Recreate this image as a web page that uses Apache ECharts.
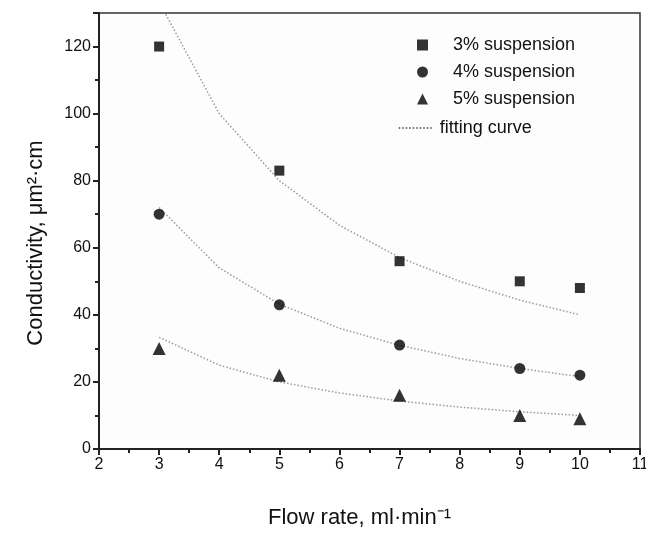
<!DOCTYPE html>
<html>
<head>
<meta charset="utf-8">
<script src="https://cdn.jsdelivr.net/npm/echarts@6/dist/echarts.min.js"></script>
<style>html,body{margin:0;padding:0;background:#fff;}#c{width:646px;height:536px;}</style>
</head>
<body>
<div id="c"></div>
<script>
// Measured data
var flowRates = [3, 5, 7, 9, 10];
var susp3 = [120, 83, 56, 50, 48];
var susp4 = [70, 43, 31, 24, 22];
var susp5 = [30, 22, 16, 10, 9];
// Fitting curves read at integer flow rates
var fitX = [3, 4, 5, 6, 7, 8, 9, 10];
var fit3 = [133.3, 100, 80, 66.7, 57.1, 50, 44.4, 40];
var fit4 = [72, 54, 43.2, 36, 30.9, 27, 24, 21.6];
var fit5 = [33.3, 25, 20, 16.7, 14.3, 12.5, 11.1, 10];
var seriesNames = ['3% suspension', '4% suspension', '5% suspension'];
var fitName = 'fitting curve';

function pairs(xs, ys) { return xs.map(function (x, i) { return [x, ys[i]]; }); }

var FONT = '"Liberation Sans", Arial, sans-serif';
var fitStyle = { color: '#9a9a9a', width: 1.5, type: [1.5, 2] };

function fitSeries(ys) {
  return {
    name: fitName, type: 'line', data: pairs(fitX, ys), symbol: 'none', showSymbol: false,
    lineStyle: fitStyle, itemStyle: { color: 'rgba(0,0,0,0)' }, z: 1, silent: true, animation: false
  };
}
function ptSeries(name, ys, symbol, size) {
  return {
    name: name, type: 'scatter', data: pairs(flowRates, ys), symbol: symbol, symbolSize: size,
    itemStyle: { color: '#000' }, z: 3, animation: false
  };
}

var chart = echarts.init(document.getElementById('c'));
chart.setOption({
  backgroundColor: '#fff',
  animation: false,
  grid: { left: 99, right: 6, top: 13, bottom: 87, outerBoundsMode: 'none', containLabel: false, show: true, borderColor: '#333', borderWidth: 1.5, backgroundColor: '#fdfdfd' },
  legend: [
    {
      data: [
        { name: seriesNames[0], icon: 'rect' },
        { name: seriesNames[1], icon: 'circle' },
        { name: seriesNames[2], icon: 'triangle' }
      ],
      orient: 'vertical', left: 412, top: 31, itemWidth: 11, itemHeight: 11, itemGap: 9,
      itemStyle: { color: '#000' },
      textStyle: { fontFamily: FONT, fontSize: 18, color: '#111', padding: [0, 0, 0, 20] },
      selectedMode: false
    },
    {
      data: [{ name: fitName, itemStyle: { color: 'rgba(0,0,0,0)', borderWidth: 0, opacity: 0 } }],
      orient: 'vertical', left: 393, top: 114, itemWidth: 35, itemHeight: 12,
      lineStyle: { color: '#444', width: 1.5, type: [1.5, 2] },
      textStyle: { fontFamily: FONT, fontSize: 18, color: '#111', padding: [0, 0, 0, 1] },
      selectedMode: false
    }
  ],
  xAxis: {
    type: 'value', min: 2, max: 11, interval: 1,
    name: 'Flow rate, ml·min⁻¹', nameLocation: 'middle', nameGap: 58,
    nameTextStyle: { fontFamily: FONT, fontSize: 22, color: '#111', padding: [0, 20, 0, 0] },
    axisLine: { show: true, onZero: false, lineStyle: { color: '#222', width: 2 } },
    axisTick: { show: true, inside: false, length: 6, lineStyle: { color: '#222', width: 2 } },
    minorTick: { show: true, splitNumber: 2, length: 4, lineStyle: { color: '#222', width: 2 } },
    axisLabel: { fontFamily: FONT, fontSize: 16, color: '#111', margin: 8 },
    splitLine: { show: false }
  },
  yAxis: {
    type: 'value', min: 0, max: 130, interval: 20,
    name: 'Conductivity, μm²·cm', nameLocation: 'middle', nameGap: 52,
    nameTextStyle: { fontFamily: FONT, fontSize: 22, color: '#111', padding: [0, 24, 0, 0] },
    axisLine: { show: true, onZero: false, lineStyle: { color: '#222', width: 2 } },
    axisTick: { show: true, inside: false, length: 6, lineStyle: { color: '#222', width: 2 } },
    minorTick: { show: true, splitNumber: 2, length: 4, lineStyle: { color: '#222', width: 2 } },
    axisLabel: { fontFamily: FONT, fontSize: 16, color: '#111', margin: 8, showMaxLabel: false },
    splitLine: { show: false }
  },
  series: [
    fitSeries(fit3), fitSeries(fit4), fitSeries(fit5),
    ptSeries(seriesNames[0], susp3, 'rect', 10),
    ptSeries(seriesNames[1], susp4, 'circle', 11),
    ptSeries(seriesNames[2], susp5, 'triangle', 13)
  ]
});
</script>
</body>
</html>
